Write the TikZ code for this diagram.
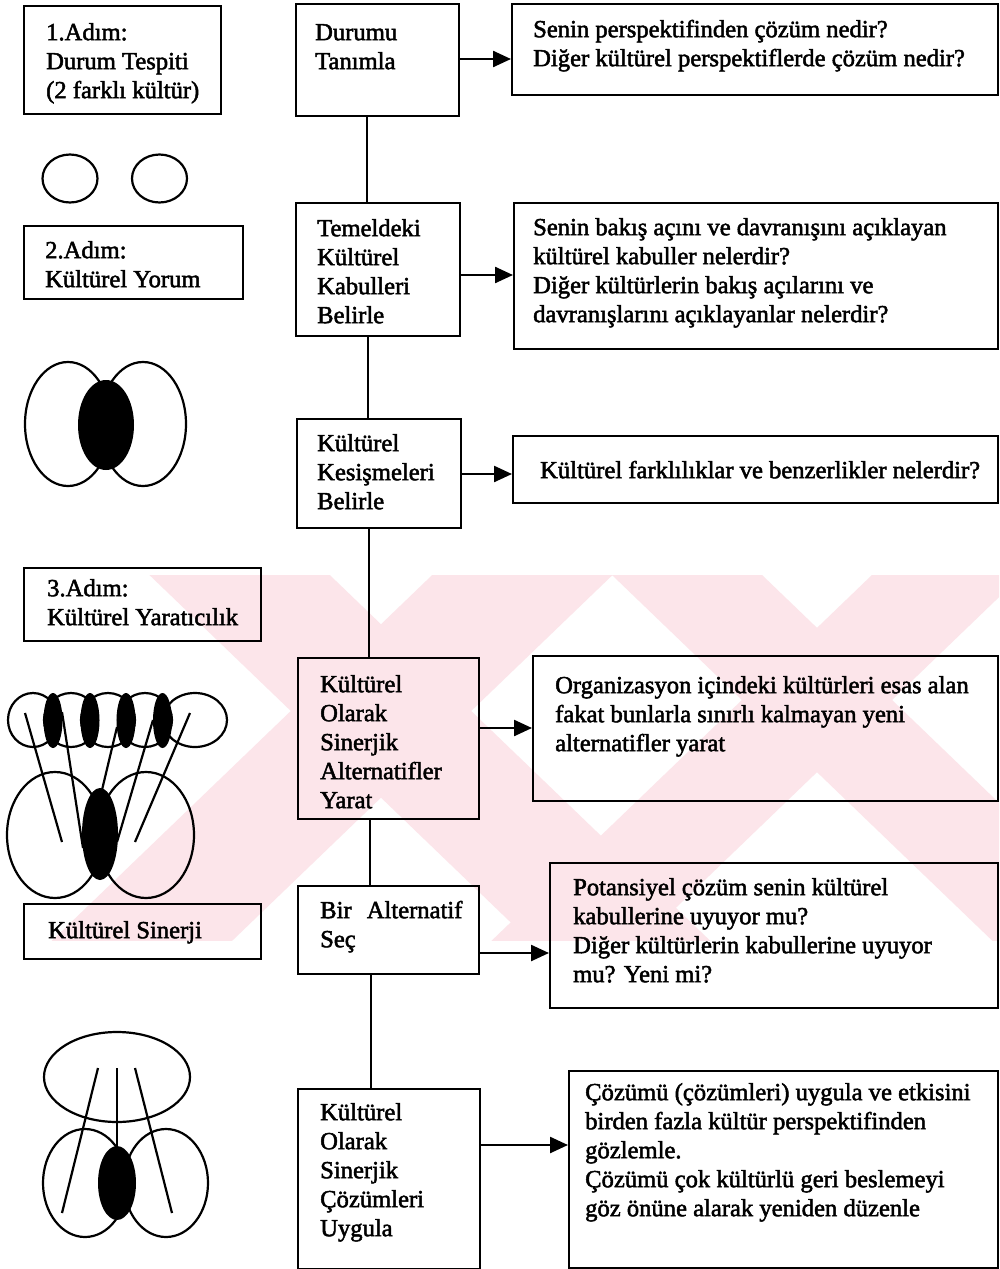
\documentclass[tikz,border=0pt]{standalone}
\usepackage{fontspec}
\setmainfont{Liberation Serif}[FakeBold=2]
\usetikzlibrary{arrows.meta,calc}
% fixed height of the first text line, so that baselines can be placed exactly
\newcommand{\fl}{\rule{0pt}{21pt}}
\definecolor{mark}{RGB}{252,229,234}
\tikzset{
  frame/.style={draw, line width=2.2pt, rectangle, inner sep=0pt, anchor=north west},
  lbl/.style={anchor=north west, inner sep=0pt, align=left,
              font=\fontsize{24.6}{29}\selectfont},
  link/.style={line width=1.8pt},
  arr/.style={line width=2.4pt, -{Triangle[length=18pt,width=16pt]}},
  ring/.style={line width=2.2pt},
  blob/.style={fill=black},
  band/.style={draw=mark, line cap=butt},
}
\begin{document}
\begin{tikzpicture}[x=1pt,y=-1pt]
\useasboundingbox (0,0) rectangle (999,1269);
\fill[white] (0,0) rectangle (999,1269);

% pale background emblem across the middle strip
\begin{scope}
  \clip (0,575) rectangle (999,940);
  \draw[band, line width=125pt] (172,510) -- (692,1010);
  \draw[band, line width=125pt] (590,510) -- (70,1010);
  \draw[band, line width=104pt] (609,500) -- (1129,1000);
  \draw[band, line width=104pt] (1025,500) -- (505,1000);
\end{scope}

% ---------------- left column: steps and figures ----------------
\node[frame, minimum width=197pt, minimum height=108pt] (s1) at (23,5) {};
\node[lbl] (s1t) at (46,19) {\fl 1.Adım:\\Durum Tespiti\\(2 farklı kültür)};

\draw[ring] (70,178.5) ellipse [x radius=27.5, y radius=24];
\draw[ring] (159.5,178.5) ellipse [x radius=27.5, y radius=24];

\node[frame, minimum width=219pt, minimum height=73pt] (s2) at (23,225) {};
\node[lbl] (s2t) at (45,237) {\fl 2.Adım:\\Kültürel Yorum};

% two cultures overlapping
\draw[ring] (68,424) ellipse [x radius=43, y radius=62];
\draw[ring] (143,424) ellipse [x radius=43, y radius=62];
\fill[blob] (106,425) ellipse [x radius=28, y radius=45];

\node[frame, minimum width=237pt, minimum height=73pt] (s3) at (23,567) {};
\node[lbl] (s3t) at (47,575) {\fl 3.Adım:\\Kültürel Yaratıcılık};

% synergy: a chain of cultures above two overlapping ones
\draw[ring] (33,720) ellipse [x radius=25, y radius=27];
\draw[ring] (71,720) ellipse [x radius=27, y radius=27];
\draw[ring] (108,720) ellipse [x radius=27, y radius=27];
\draw[ring] (145,720) ellipse [x radius=27, y radius=27];
\draw[ring] (195,720) ellipse [x radius=32, y radius=27];
\foreach \cx in {53,90,126,162.5}
  \fill[blob] (\cx,720.5) ellipse [x radius=9.5, y radius=27.5];
\draw[ring] (55,835) ellipse [x radius=48, y radius=63];
\draw[ring] (146,835) ellipse [x radius=48, y radius=63];
\fill[blob] (100,834) ellipse [x radius=18, y radius=46];
\draw[ring] (25,713) -- (62,842);
\draw[ring] (62,712) -- (83,848);
\draw[ring] (117,727) -- (102,790);
\draw[ring] (153,720) -- (117,842);
\draw[ring] (190,713) -- (135,842);

\node[frame, minimum width=237pt, minimum height=55pt] (s4) at (23,903) {};
\node[lbl] (s4t) at (48,917) {\fl Kültürel Sinerji};

% solution seen from several cultures
\draw[ring] (117,1077) ellipse [x radius=73, y radius=45];
\draw[ring] (85,1183) ellipse [x radius=42, y radius=54];
\draw[ring] (166,1183) ellipse [x radius=42, y radius=54];
\fill[blob] (117,1183) ellipse [x radius=19, y radius=37];
\draw[ring] (98,1068) -- (62,1213);
\draw[ring] (117,1068) -- (117,1147);
\draw[ring] (135,1068) -- (172,1213);

% ---------------- middle column: process steps ----------------
\node[frame, minimum width=163pt, minimum height=112pt] (b1) at (295,3) {};
\node[lbl] (b1t) at (315,19) {\fl Durumu\\Tanımla};

\node[frame, minimum width=164pt, minimum height=133pt] (b2) at (295,202) {};
\node[lbl] (b2t) at (317,215) {\fl Temeldeki\\Kültürel\\Kabulleri\\Belirle};

\node[frame, minimum width=164pt, minimum height=109pt] (b3) at (296,418) {};
\node[lbl] (b3t) at (317,430) {\fl Kültürel\\Kesişmeleri\\Belirle};

\node[frame, minimum width=181pt, minimum height=161pt] (b4) at (297,657) {};
\node[lbl] (b4t) at (320,671) {\fl Kültürel\\Olarak\\Sinerjik\\Alternatifler\\Yarat};

\node[frame, minimum width=181pt, minimum height=88pt] (b5) at (297,885) {};
\node[lbl] (b5t) at (320,897) {\fl Bir\hspace{9pt} Alternatif\\Seç};

\node[frame, minimum width=182pt, minimum height=180pt] (b6) at (297,1088) {};
\node[lbl] (b6t) at (320,1099) {\fl Kültürel\\Olarak\\Sinerjik\\Çözümleri\\Uygula};

% ---------------- right column: questions ----------------
\node[frame, minimum width=486pt, minimum height=91pt] (r1) at (511,3) {};
\node[lbl] (r1t) at (533,16) {\fl Senin perspektifinden çözüm nedir?\\Diğer kültürel perspektiflerde çözüm nedir?};

\node[frame, minimum width=484pt, minimum height=146pt] (r2) at (513,202) {};
\node[lbl] (r2t) at (533,214) {\fl Senin bakış açını ve davranışını açıklayan\\kültürel kabuller nelerdir?\\Diğer kültürlerin bakış açılarını ve\\davranışlarını açıklayanlar nelerdir?};

\node[frame, minimum width=485pt, minimum height=67pt] (r3) at (512,435) {};
\node[lbl] (r3t) at (540,457) {\fl Kültürel farklılıklar ve benzerlikler nelerdir?};

\node[frame, minimum width=465pt, minimum height=145pt] (r4) at (532,655) {};
\node[lbl] (r4t) at (555,672) {\fl Organizasyon içindeki kültürleri esas alan\\fakat bunlarla sınırlı kalmayan yeni\\alternatifler yarat};

\node[frame, minimum width=448pt, minimum height=145pt] (r5) at (549,862) {};
\node[lbl] (r5t) at (573,874) {\fl Potansiyel çözüm senin kültürel\\kabullerine uyuyor mu?\\Diğer kültürlerin kabullerine uyuyor\\mu? Yeni mi?};

\node[frame, minimum width=429pt, minimum height=197pt] (r6) at (568,1070) {};
\node[lbl] (r6t) at (585,1079) {\fl Çözümü (çözümleri) uygula ve etkisini\\birden fazla kültür perspektifinden\\gözlemle.\\Çözümü çok kültürlü geri beslemeyi\\göz önüne alarak yeniden düzenle};

% ---------------- connectors ----------------
\coordinate (v1) at (367,0);
\coordinate (v2) at (368,0);
\coordinate (v3) at (369,0);
\coordinate (v4) at (370,0);
\coordinate (v5) at (371,0);
\draw[link] (b1.south -| v1) -- (b2.north -| v1);
\draw[link] (b2.south -| v2) -- (b3.north -| v2);
\draw[link] (b3.south -| v3) -- (b4.north -| v3);
\draw[link] (b4.south -| v4) -- (b5.north -| v4);
\draw[link] (b5.south -| v5) -- (b6.north -| v5);

\coordinate (h1) at (0,59);
\coordinate (h2) at (0,275);
\coordinate (h3) at (0,474);
\coordinate (h4) at (0,728);
\coordinate (h5) at (0,953);
\coordinate (h6) at (0,1145);
\draw[arr] (b1.east |- h1) -- (r1.west |- h1);
\draw[arr] (b2.east |- h2) -- (r2.west |- h2);
\draw[arr] (b3.east |- h3) -- (r3.west |- h3);
\draw[arr] (b4.east |- h4) -- (r4.west |- h4);
\draw[arr] (b5.east |- h5) -- (r5.west |- h5);
\draw[arr] (b6.east |- h6) -- (r6.west |- h6);
\end{tikzpicture}
\end{document}
